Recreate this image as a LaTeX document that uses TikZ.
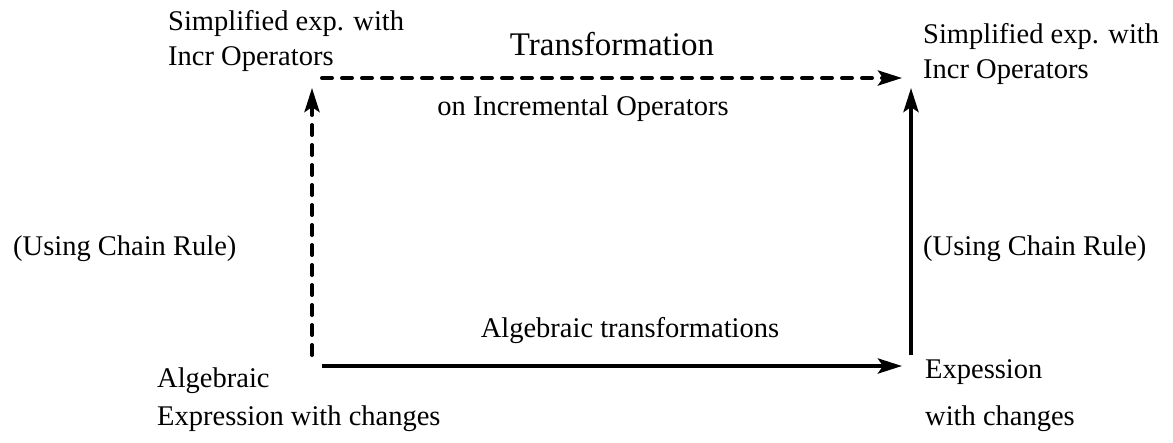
\documentclass[tikz,border=0pt]{standalone}
\usepackage{fontspec}
\setmainfont{Liberation Serif}
\usetikzlibrary{arrows.meta}
\begin{document}
\begin{tikzpicture}[x=1pt,y=-1pt,
  lbl/.style={inner sep=0pt,anchor=base west,font=\fontsize{28.5}{34}\selectfont},
  clbl/.style={lbl,anchor=base},
  biglbl/.style={inner sep=0pt,anchor=base,font=\fontsize{33}{40}\selectfont},
  link/.style={line width=4pt,-{Stealth[length=24pt,width=15pt,inset=5pt]}},
  dashlink/.style={link,line cap=round,dash pattern=on 10pt off 10pt}]
\useasboundingbox (0,0) rectangle (1173,442);

% corner labels
\node[lbl] (tl1) at (168,30) {Simplified exp. with};
\node[lbl] (tl2) at (168,65) {Incr Operators};
\node[lbl] (tr1) at (923,43) {Simplified exp. with};
\node[lbl] (tr2) at (923,78) {Incr Operators};
\node[lbl] (bl1) at (157,387) {Algebraic};
\node[lbl] (bl2) at (157,425) {Expression with changes};
\node[lbl] (br1) at (925,378) {Expession};
\node[lbl] (br2) at (925,425) {with changes};

% edge labels
\node[biglbl] (ttop) at (612,55) {Transformation};
\node[clbl] (tbot) at (583,115) {on Incremental Operators};
\node[lbl] (lrule) at (13,255) {(Using Chain Rule)};
\node[lbl] (rrule) at (923,255) {(Using Chain Rule)};
\node[clbl] (alg) at (630,337) {Algebraic transformations};

% arrow end points
\coordinate (lb) at (312,355);
\coordinate (lt) at (312,88);
\coordinate (ts) at (322,78);
\coordinate (te) at (902,78);
\coordinate (rb) at (911,355);
\coordinate (rt) at (911,88);
\coordinate (bs) at (322,366);
\coordinate (be) at (902,366);

\draw[dashlink] (lb) -- (lt);
\draw[dashlink] (ts) -- (te);
\draw[link] (rb) -- (rt);
\draw[link] (bs) -- (be);
\end{tikzpicture}
\end{document}
